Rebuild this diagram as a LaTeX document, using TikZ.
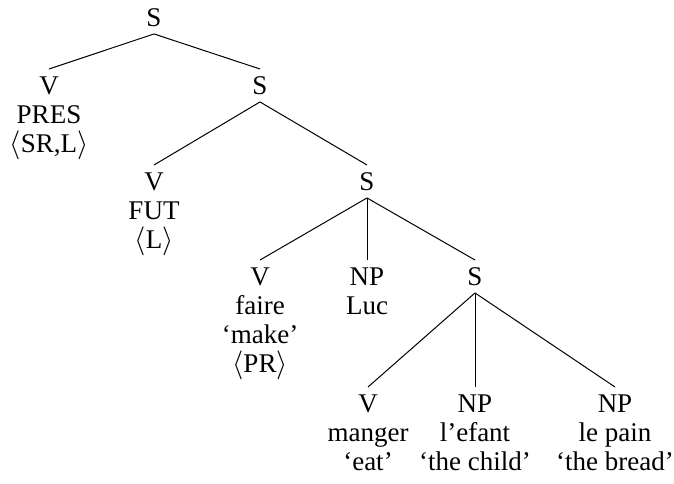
\documentclass[tikz,border=0pt]{standalone}
\usepackage{fontspec}
\setmainfont{Liberation Serif}
\newcommand{\feat}[1]{\smash{$\langle$}#1\smash{$\rangle$}}

\begin{document}
\begin{tikzpicture}[x = 0.5pt, y = -0.5pt,
                    font = \fontsize{13.5}{14.5}\selectfont]
    \tikzset{CatStyle/.style = {align     = center,
                                anchor    = north,
                                inner sep = 3.5pt}}
    \tikzset{BranchStyle/.style = {draw       = black,
                                   line width = 0.5pt}}
    \useasboundingbox (0,0) rectangle (674,483);
    % top levels
    \node[CatStyle] (S)     at (154,1)   {S};
    \node[CatStyle] (Vpres) at (49,69)   {V\\PRES\\\feat{SR,L}};
    \node[CatStyle] (Sa)    at (260,69)  {S};
    \node[CatStyle] (Vfut)  at (154,165) {V\\FUT\\\feat{L}};
    \node[CatStyle] (Sb)    at (367,165) {S};
    % causative
    \node[CatStyle] (Vfaire) at (260,260) {V\\faire\\`make'\\\feat{PR}};
    \node[CatStyle] (NPluc)  at (367,260) {NP\\Luc};
    \node[CatStyle] (Sc)     at (475,260) {S};
    % embedded clause
    \node[CatStyle] (Veat)   at (368,387) {V\\manger\\`eat'};
    \node[CatStyle] (NPsubj) at (475,387) {NP\\l'efant\\`the child'};
    \node[CatStyle] (NPobj)  at (615,387) {NP\\le pain\\`the bread'};
    \draw[BranchStyle] (S.south)  -- (Vpres.north);
    \draw[BranchStyle] (S.south)  -- (Sa.north);
    \draw[BranchStyle] (Sa.south) -- (Vfut.north);
    \draw[BranchStyle] (Sa.south) -- (Sb.north);
    \draw[BranchStyle] (Sb.south) -- (Vfaire.north);
    \draw[BranchStyle] (Sb.south) -- (NPluc.north);
    \draw[BranchStyle] (Sb.south) -- (Sc.north);
    \draw[BranchStyle] (Sc.south) -- (Veat.north);
    \draw[BranchStyle] (Sc.south) -- (NPsubj.north);
    \draw[BranchStyle] (Sc.south) -- (NPobj.north);
\end{tikzpicture}
\end{document}
